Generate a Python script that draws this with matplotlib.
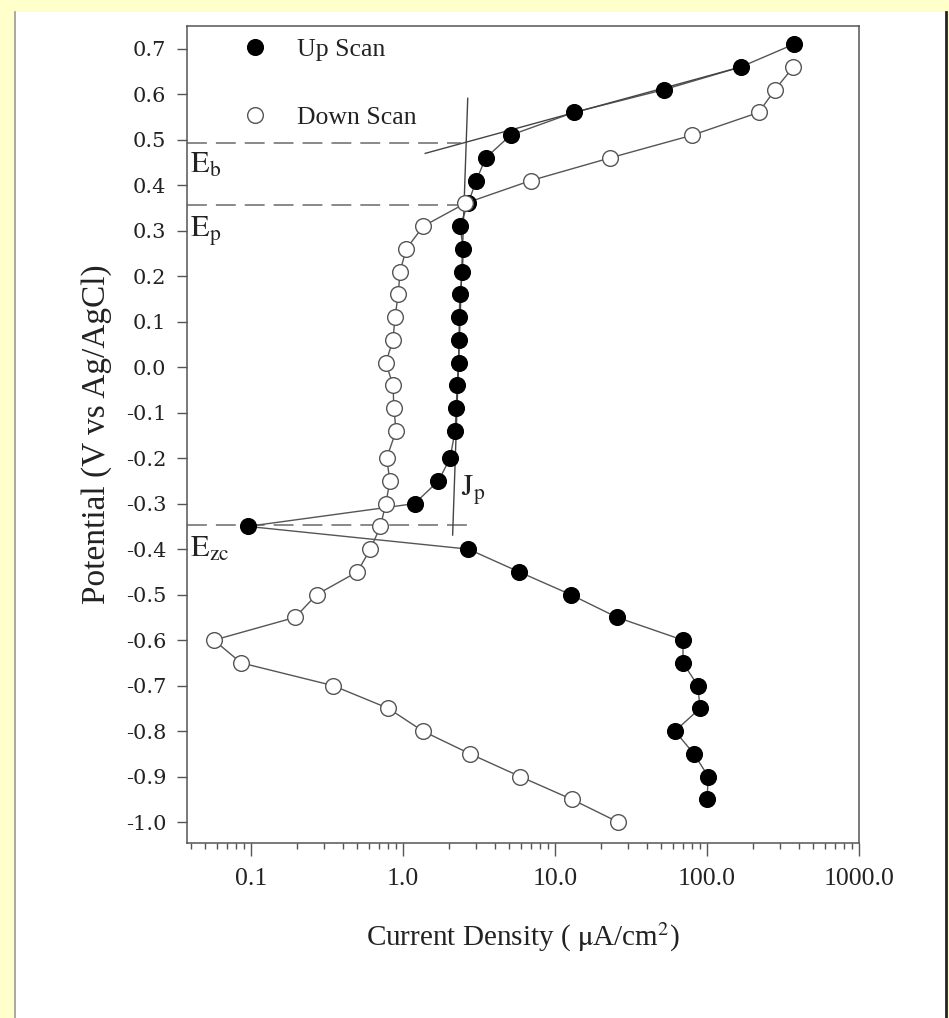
import matplotlib
matplotlib.use("Agg")
import matplotlib.pyplot as plt
from matplotlib.patches import Rectangle
from matplotlib.lines import Line2D
from matplotlib.ticker import FixedLocator, LogLocator, NullFormatter

# up scan (filled circles): potential (V) and current density (uA/cm2)
up_potential = [-0.95, -0.90, -0.85, -0.80, -0.75, -0.70, -0.65, -0.60, -0.55,
                -0.50, -0.45, -0.40, -0.35, -0.30, -0.25, -0.20, -0.14, -0.09,
                -0.04, 0.01, 0.06, 0.11, 0.16, 0.21, 0.26, 0.31, 0.36, 0.41,
                0.46, 0.51, 0.56, 0.61, 0.66, 0.71]
up_current = [100, 102, 82, 61.5, 90, 87, 69.5, 69.5, 25.6,
              12.7, 5.8, 2.69, 0.095, 1.19, 1.71, 2.04, 2.20, 2.24,
              2.27, 2.32, 2.34, 2.34, 2.37, 2.46, 2.49, 2.37, 2.68, 3.03,
              3.5, 5.1, 13.3, 52, 167, 373]

# down scan (open circles)
down_potential = [0.66, 0.61, 0.56, 0.51, 0.46, 0.41, 0.36, 0.31, 0.26, 0.21,
                  0.16, 0.11, 0.06, 0.01, -0.04, -0.09, -0.14, -0.20, -0.25,
                  -0.30, -0.35, -0.40, -0.45, -0.50, -0.55, -0.60, -0.65,
                  -0.70, -0.75, -0.80, -0.85, -0.90, -0.95, -1.00]
down_current = [370, 280, 219, 80, 23, 6.9, 2.56, 1.36, 1.05, 0.955,
                0.93, 0.885, 0.86, 0.77, 0.86, 0.87, 0.90, 0.78, 0.82,
                0.77, 0.71, 0.61, 0.50, 0.27, 0.195, 0.057, 0.086,
                0.346, 0.80, 1.35, 2.76, 5.9, 12.9, 26]

# characteristic potentials and construction lines
E_b, E_p, E_zc = 0.493, 0.356, -0.347
dash_ends = [2.4, 2.5, 2.9]
tangent_x = [1.4, 167]
tangent_y = [0.47, 0.66]
jp_x = [2.665, 2.12]
jp_y = [0.591, -0.369]

xticks = [0.1, 1, 10, 100, 1000]
xticklabels = ["0.1", "1.0", "10.0", "100.0", "1000.0"]
yticks = [round(-1.0 + 0.1 * k, 1) for k in range(18)]

plt.rcParams["mathtext.fontset"] = "stix"
serif = "Liberation Serif"

fig = plt.figure(figsize=(9.49, 10.18), dpi=100, facecolor="#FFFFCC")
fig.patches.append(Rectangle((15 / 949, 0), 931 / 949, 1 - 12 / 1018,
                             transform=fig.transFigure, facecolor="white",
                             edgecolor="none", zorder=-2))
fig.lines.append(Line2D([15 / 949, 15 / 949], [0, 1 - 12 / 1018],
                        transform=fig.transFigure, color="#999999", lw=1.2,
                        zorder=-1))
fig.lines.append(Line2D([946 / 949, 946 / 949], [0, 1 - 12 / 1018],
                        transform=fig.transFigure, color="#222222", lw=2,
                        zorder=-1))

ax = fig.add_axes([187 / 949, 1 - 843 / 1018, 672 / 949, 817 / 1018])
ax.set_xscale("log")
ax.set_xlim(0.0379, 1000)
ax.set_ylim(-1.046, 0.75)

line_kw = dict(color="#555555", lw=1.0)
ax.plot(up_current, up_potential, "-", zorder=2, **line_kw)
ax.plot(down_current, down_potential, "-", zorder=2, **line_kw)
ax.plot(up_current, up_potential, "o", ms=11.3, mfc="black", mec="black",
        zorder=4, label="Up Scan")
ax.plot(down_current, down_potential, "o", ms=11.3, mfc="white",
        mec="#555555", mew=1.0, zorder=5, label="Down Scan")

for level, xend in zip([E_b, E_p, E_zc], dash_ends):
    ax.plot([0.0379, xend], [level, level], color="#808080", lw=1.3,
            dashes=(11, 5), zorder=1)
ax.plot(tangent_x, tangent_y, color="#444444", lw=1.0, zorder=3)
ax.plot(jp_x, jp_y, color="#444444", lw=1.0, zorder=3)

txt_kw = dict(fontsize=22, color="#222222", va="center", ha="left")
ax.text(0.0395, 0.445, r"$\mathrm{E_b}$", **txt_kw)
ax.text(0.0395, 0.298, r"$\mathrm{E_p}$", **txt_kw)
ax.text(0.0395, -0.398, r"$\mathrm{E_{zc}}$", **txt_kw)
ax.text(2.40, -0.27, r"$\mathrm{J_p}$", **txt_kw)

leg = ax.legend(loc="upper left", bbox_to_anchor=(0.055, 1.014), frameon=False,
                handlelength=0.6, handletextpad=1.35, labelspacing=1.75,
                prop={"family": serif, "size": 18.5})
for t in leg.get_texts():
    t.set_color("#222222")

ax.xaxis.set_major_locator(FixedLocator(xticks))
ax.xaxis.set_minor_locator(LogLocator(base=10, subs=range(2, 10), numticks=20))
ax.xaxis.set_minor_formatter(NullFormatter())
ax.set_xticklabels(xticklabels, fontfamily=serif, fontsize=18.5, color="#222222")
ax.set_yticks(yticks)
ax.set_yticklabels([f"{v:.1f}" for v in yticks], fontfamily="DejaVu Serif",
                   fontsize=15, color="#222222")
ax.tick_params(axis="x", which="major", direction="out", length=9, width=1,
               pad=9, color="#555555")
ax.tick_params(axis="x", which="minor", direction="out", length=4, width=1,
               color="#555555")
ax.tick_params(axis="y", which="major", direction="out", length=7, width=1,
               pad=8, color="#555555")
ax.tick_params(top=False, right=False)
for s in ax.spines.values():
    s.set_color("#555555")
    s.set_linewidth(1.1)

ax.set_xlabel(r"Current Density ( $\mathrm{\mu}$A/cm$^{2}$)", fontfamily=serif,
              fontsize=21, color="#222222", labelpad=22)
ax.set_ylabel("Potential (V vs Ag/AgCl)", fontfamily=serif, fontsize=24,
              color="#222222", labelpad=10)

fig.savefig("out.png", dpi=100, facecolor=fig.get_facecolor())
